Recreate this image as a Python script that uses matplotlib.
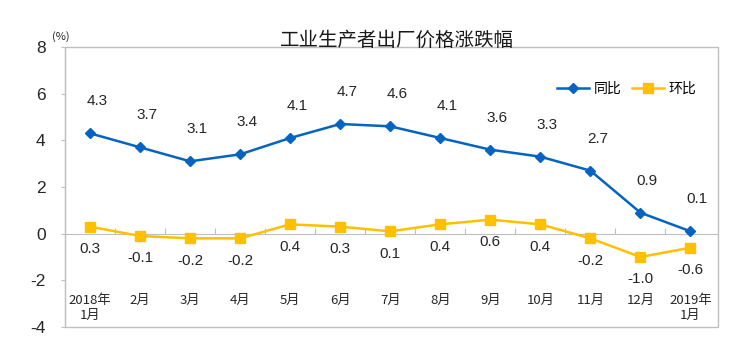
import matplotlib.pyplot as plt
import numpy as np
from matplotlib.patches import Rectangle

plt.rcParams['font.family'] = ['Noto Sans CJK SC', 'DejaVu Sans']
plt.rcParams['axes.unicode_minus'] = False

months = ['2018年\n1月', '2月', '3月', '4月', '5月', '6月', '7月', '8月',
          '9月', '10月', '11月', '12月', '2019年\n1月']
yoy = [4.3, 3.7, 3.1, 3.4, 4.1, 4.7, 4.6, 4.1, 3.6, 3.3, 2.7, 0.9, 0.1]
mom = [0.3, -0.1, -0.2, -0.2, 0.4, 0.3, 0.1, 0.4, 0.6, 0.4, -0.2, -1.0, -0.6]
yticks = [8, 6, 4, 2, 0, -2, -4]

blue = '#0563C1'
yellow = '#FFC000'
grey = '#BFBFBF'
num_font = ['Liberation Sans', 'DejaVu Sans']

fig = plt.figure(figsize=(7.39, 3.57), dpi=100)
ax = fig.add_axes([65 / 739, 30 / 357, 653 / 739, 280 / 357])

x = np.arange(len(months))
ax.plot(x, yoy, color=blue, lw=1.8, marker='D', ms=5, label='同比', zorder=3)
ax.plot(x, mom, color=yellow, lw=1.8, marker='s', ms=7, label='环比', zorder=3)

for xi, v in zip(x, yoy):
    ax.annotate(f'{v:.1f}', (xi, v), xytext=(5, 23), textcoords='offset points',
                ha='center', va='center', fontsize=11, color='#262626', family=num_font)
for xi, v in zip(x, mom):
    ax.annotate(f'{v:.1f}', (xi, v), xytext=(0, -16), textcoords='offset points',
                ha='center', va='center', fontsize=11, color='#262626', family=num_font)

for xi, m in zip(x, months):
    ax.text(xi, -2.6, m, ha='center', va='top', fontsize=9.5, color='#262626',
            linespacing=1.15)

ax.set_xlim(-0.5, 12.55)
ax.set_ylim(-4, 8)
ax.set_yticks(yticks)
ax.set_yticklabels([str(t) for t in yticks], family=num_font, fontsize=12.5, color='#262626')
ax.tick_params(axis='y', direction='out', length=3, color=grey, pad=11)

# category axis crosses at zero, boundary ticks pointing up
ax.spines['bottom'].set_position(('data', 0))
ax.set_xticks(np.arange(0.5, 12, 1))
ax.set_xticklabels([])
ax.tick_params(axis='x', direction='in', length=4, color=grey)
for s in ['top', 'right']:
    ax.spines[s].set_visible(False)
for s in ['left', 'bottom']:
    ax.spines[s].set_color(grey)
ax.add_patch(Rectangle((0, 0), 1, 1, transform=ax.transAxes, fill=False,
                       edgecolor=grey, lw=1, clip_on=False))

fig.text(397 / 739, 1 - 40 / 357, '工业生产者出厂价格涨跌幅', ha='center', va='center',
         fontsize=14, fontweight='medium', color='#1a1a1a')
fig.text(61 / 739, 1 - 37 / 357, '(%)', ha='center', va='center', fontsize=8,
         color='#262626')

ax.legend(loc='upper right', bbox_to_anchor=(0.975, 0.895), ncol=2, frameon=False,
          fontsize=10, handlelength=2.3, handletextpad=0.3, columnspacing=0.8,
          borderaxespad=0)

fig.savefig('out.png', dpi=100)
